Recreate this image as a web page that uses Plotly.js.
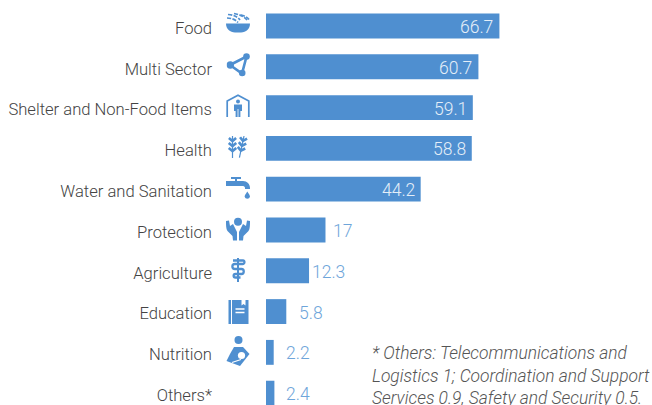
<!DOCTYPE html>
<html><head><meta charset="utf-8"><script src="https://cdn.plot.ly/plotly-3.0.0.min.js"></script>
<style>html,body{margin:0;padding:0;background:#fff;overflow:hidden}</style></head><body>
<div id="c" style="width:652px;height:405px"></div>
<script>
const categories=["Food","Multi Sector","Shelter and Non-Food Items","Health","Water and Sanitation","Protection","Agriculture","Education","Nutrition","Others*"];
const values=[66.7,60.7,59.1,58.8,44.2,17,12.3,5.8,2.2,2.4];
const valueLabels=["66.7","60.7","59.1","58.8","44.2","17","12.3","5.8","2.2","2.4"];
const labelGaps=[-4,-4,-4,-4,-4,6,1,11,10,10];
const note="* Others: Telecommunications and<br>Logistics 1; Coordination and Support<br>Services 0.9, Safety and Security 0.5.";
const blue="#4f8fd0";
const W=652,H=405,L=266,T=6,PW=386,PH=399;
// decorative pictograms; [centre x, centre y, width, height] in page pixels
const wheat='<path d="M0 0V22" stroke-width="1.2"/><path d="M-3.6 2l3.6 3 3.6-3M-3.8 7l3.8 3 3.8-3M-3.8 12l3.8 3 3.8-3" stroke-width="2.6" fill="none"/>';
const iconMarkup=[
 '<path d="M0 11.5H24C24 17 20 20.5 15 20.5H9C4 20.5 0 17 0 11.5Z" fill="#4f8fd0"/><g stroke="#4f8fd0" stroke-width="1.7" stroke-dasharray="4 1.4" fill="none"><path d="M2 2.5C8 3 12 5 14 8"/><path d="M1 6C6 6 10 8 12 10.5"/><path d="M8 1.5C14 2.5 19 5 22 9"/><path d="M15 3C18 3.5 21 5 23 7.5"/></g>',
 '<g stroke="#4f8fd0" stroke-width="2.6" fill="none"><path d="M3.5 12L20 3.5 15.5 20.5Z"/></g><circle cx="3.8" cy="12" r="3.7" fill="#4f8fd0"/><circle cx="20" cy="3.6" r="3.3" fill="#4f8fd0"/><circle cx="15.7" cy="20" r="3.3" fill="#4f8fd0"/>',
 '<path d="M1.2 23V7L12 1.2 22.8 7V23" fill="none" stroke="#4f8fd0" stroke-width="1.7"/><circle cx="12" cy="7.5" r="2" fill="#4f8fd0"/><path d="M8 10.5H16V17H14.4V23H9.6V17H8Z" fill="#4f8fd0"/><path d="M12 15V23" stroke="#fff" stroke-width=".8"/>',
 '<g stroke="#4f8fd0"><g transform="translate(6.5 1)">'+wheat+'</g><g transform="translate(18 1) rotate(12)">'+wheat+'</g></g>',
 '<path d="M0 5H9V3H5V1H15V3H11V5H17C21 5 24 8 24 12V13H19V12C19 11 18.3 10 17 10H0Z" fill="#4f8fd0"/><path d="M21.3 15.5C23 18 24 19.3 24 20.7A2.8 2.8 0 0 1 18.6 20.7C18.6 19.3 19.7 18 21.3 15.5Z" fill="#4f8fd0"/>',
 '<circle cx="12" cy="4.7" r="4" fill="#4f8fd0"/><path d="M0 4L3 3.5 4 9 7 7 11 15V23.5H7L6.5 19 1.5 14C0 12 0 8 0 4Z" fill="#4f8fd0"/><path d="M24 4L21 3.5 20 9 17 7 13 15V23.5H17L17.5 19 22.5 14C24 12 24 8 24 4Z" fill="#4f8fd0"/>',
 '<path d="M12 0V24" stroke="#4f8fd0" stroke-width="2"/><path d="M7 2.5H17C19 2.5 19 6 16.5 6H9C5.5 6 5.5 11 9 11H15.5C18.5 11 18.5 16 15.5 16H9.5C7 16 7 19.5 9.5 19.5H14.5" fill="none" stroke="#4f8fd0" stroke-width="2.3"/>',
 '<path d="M2 0H22V24H2Z" fill="#4f8fd0"/><path d="M5 0V24" stroke="#fff" stroke-width="1"/><path d="M9 9H18M9 12.5H18" stroke="#fff" stroke-width="1.4"/><path d="M15 0V5.5L17 4 19 5.5V0Z" fill="#fff"/>',
 '<circle cx="12.5" cy="4" r="4" fill="#4f8fd0"/><path d="M8 11H17L23.5 18 14 30 .5 25 4 18Z" fill="#4f8fd0"/><circle cx="15.5" cy="19.5" r="3.6" fill="#fff"/><path d="M6 26.5L15 23.5" stroke="#fff" stroke-width="1.3"/>'
];
const iconBoxes=[[238,24,24,24],[238.5,65,24,24],[238,106,24,24],[237.5,147,23,24],[238,188,24,24],[238,229,24,24],[238,270,24,24],[238.5,312,24,24],[238,351,24,30]];
const images=iconMarkup.map((m,i)=>{const [cx,cy,w,h]=iconBoxes[i];
 return {source:"data:image/svg+xml;utf8,"+encodeURIComponent('<svg xmlns="http://www.w3.org/2000/svg" width="'+w*4+'" height="'+h*4+'" viewBox="0 0 '+w+' '+h+'">'+m+'</svg>'),
 xref:"paper",yref:"paper",x:(cx-w/2-L)/PW,y:1-(cy-h/2-T)/PH,sizex:w/PW,sizey:h/PH,xanchor:"left",yanchor:"top",sizing:"stretch",layer:"above"};});
const labels=values.map((v,i)=>{const inside=v>40;return {xref:"x",yref:"y",x:v,y:i,text:valueLabels[i],showarrow:false,
 xanchor:inside?"right":"left",xshift:labelGaps[i],yshift:-1,font:{family:"Roboto",weight:300,size:17.5,color:inside?"#e4eef8":"#6ea5da"}};});
Plotly.newPlot("c",[{type:"bar",orientation:"h",y:categories,x:values,marker:{color:blue},width:0.61,hoverinfo:"skip"}],
{width:W,height:H,margin:{l:L,r:0,t:T,b:0},paper_bgcolor:"#fff",plot_bgcolor:"#fff",showlegend:false,images:images,
 xaxis:{range:[0,110.3],visible:false,fixedrange:true},
 yaxis:{range:[9.29,-0.49],showline:false,showgrid:false,zeroline:false,ticks:"",ticklabelstandoff:53,ticklabelshift:-2,tickfont:{family:"Roboto",weight:300,size:16.6,color:"#444"},fixedrange:true},
 annotations:labels.concat([{xref:"paper",yref:"paper",x:(370-L)/PW,y:1-(341-T)/PH,xanchor:"left",yanchor:"top",align:"left",showarrow:false,text:"<i>"+note+"</i>",font:{family:"Roboto",weight:300,size:17.4,color:"#555"}}])
},{displayModeBar:false,staticPlot:true});
</script></body></html>
